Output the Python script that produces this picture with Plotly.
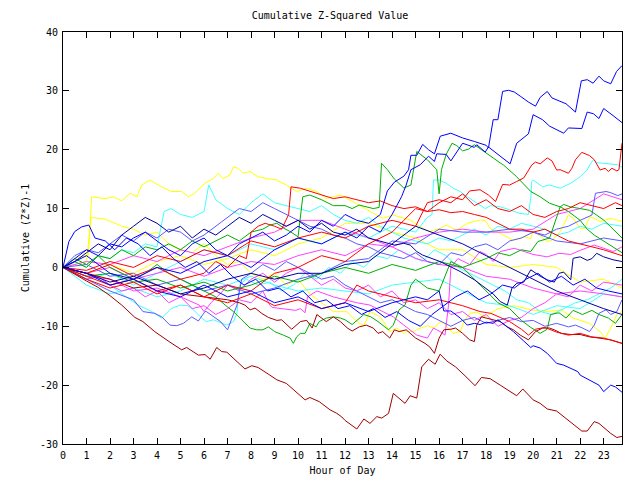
import plotly.graph_objects as go

# ---------------- data ----------------
hour_grid = [0, 1, 2, 3, 4, 5, 6, 7, 8, 9, 10, 11, 12, 13, 14, 15, 16, 17, 18, 19, 20, 21, 22, 23, 23.78]

h_blue_top = [0, 0.5, 1, 1.5, 2, 2.5, 3, 3.5, 4, 4.5, 5, 5.5, 6, 6.5, 7, 7.5, 8, 8.5, 9, 9.5, 10, 10.5, 11, 11.5, 12, 12.5, 13, 13.5,
              13.8, 14.1, 14.5, 14.7, 14.8, 15.05, 15.3, 15.55, 15.8, 16.05, 16.5, 17.0, 17.5, 18.0, 18.1, 18.3, 18.5,
              18.7, 18.95, 19.2, 19.45, 19.8, 20.1, 20.3, 20.6, 20.8, 21.1, 21.4, 21.8, 22.05, 22.3, 22.55, 22.8, 23.0, 23.3, 23.55, 23.78]
v_blue_top = [0, 1.5, 3, 2, 4, 3.5, 5, 6, 4.5, 3, 2, 4, 5, 3, 2, 4, 5, 6, 4.5, 5.5, 7, 6, 8, 7, 9, 8, 7.5, 9,
              13, 14.5, 15.5, 16.6, 19.05, 19.05, 20.9, 20.0, 19.3, 22.3, 22.8, 22.0, 21.4, 20.75, 20.3, 25.1, 25.1,
              29.9, 30.1, 29.8, 29.1, 28.1, 27.4, 28.9, 29.9, 28.8, 28.3, 27.8, 26.4, 31.7, 31.9, 31.3, 32.5, 31.7, 31.2, 33.3, 34.3]

h_blue_2 = [0, 1, 2, 3, 4, 5, 6, 7, 8, 9, 10, 11, 12, 12.5, 13, 13.5, 14, 14.4, 14.6, 14.8, 15.2, 15.55, 15.8, 15.9, 16.3, 16.5,
            17.0, 17.5, 17.6, 17.96, 18.1, 18.6, 19.02, 19.3, 19.8, 20.0, 20.4, 20.7, 21.3, 21.5, 22.07, 22.3, 22.57, 22.8, 23.0, 23.4, 23.78]
v_blue_2 = [0, 2, -1, -2, 0, -1, 1, 2, 0, 3, 5, 4, 6, 5, 7, 6, 9, 12, 14, 16.6, 17.45, 18.9, 18.0, 19.3, 19.2, 18.1,
            21.1, 20.4, 20.85, 19.6, 20.46, 18.9, 17.6, 21.1, 22.7, 25.95, 25.1, 24.0, 22.8, 23.7, 23.6, 26.4, 26.1, 25.3, 27.0, 25.8, 24.6]

h_red_top = [0, 1, 2, 3, 4, 5, 6, 7, 8, 9, 10, 11, 12, 13, 14, 14.5, 15, 15.5, 16, 16.5, 17, 17.3, 17.74, 18.1, 18.4, 18.7, 19.0,
             19.3, 19.6, 19.94, 20.1, 20.3, 20.6, 20.8, 21.0, 21.15, 21.5, 21.65, 21.8, 22.07, 22.4, 22.6, 22.85, 23.06, 23.2,
             23.35, 23.56, 23.65, 23.78]
v_red_top = [0, -1.5, -3, -2, -4, -3, -5, -3, -4, -1, 0, 2, 1, 4, 6, 8, 10, 9.5, 11, 12, 11.5, 13, 13.2, 12.3, 11.2, 14.1, 14.0,
             14.6, 15.2, 17.4, 17.9, 17.6, 18.6, 18.1, 16.55, 16.6, 16.0, 16.85, 18.3, 19.55, 19.0, 18.3, 16.55, 16.85, 16.3,
             16.85, 16.4, 16.6, 21.1]

h_cyan_top = [0, 1, 2, 3, 4, 5, 6, 7, 8, 9, 10, 11, 12, 13, 14, 15, 15.5, 15.7, 15.76, 16.0, 16.3, 16.6, 16.9, 17.2, 17.5, 17.74,
              17.96, 18.2, 18.6, 19.0, 19.4, 19.8, 19.9, 19.94, 20.0, 20.4, 20.7, 21.15, 21.6, 22.0, 22.3, 22.4, 22.57, 22.7, 23.2, 23.6, 23.78]
v_cyan_top = [0, -2, -1, -3, -1, 1, 3, 2, 4, 3, 5, 4, 6, 5, 7, 6, 8.5, 9, 14.85, 14.85, 14.3, 13.45, 12.9, 12.0, 11.2, 10.6,
              10.0, 10.5, 10.3, 9.8, 9.2, 9.0, 11.8, 14.6, 14.85, 13.7, 14.0, 13.45, 14.3, 15.4, 16.55, 17.4, 18.3, 17.8, 17.6, 17.45, 17.0]

h_darkred_low = [0, 0.5, 1, 1.5, 2, 2.5, 3.06, 3.4, 3.9, 4.55, 5.05, 5.26, 5.76, 6.04, 6.26, 6.54, 6.75, 6.97, 7.4, 7.74, 8.03, 8.3,
                 8.8, 9.1, 9.5, 9.8, 10.1, 10.3, 10.5, 10.9, 11.36, 11.65, 11.86, 12.0, 12.5, 12.8, 13.06, 13.35, 13.56, 13.85,
                 14.05, 14.27, 14.55, 14.77, 15.05, 15.26, 15.55, 15.83, 16.04, 16.33, 16.7, 17.1, 17.53, 17.8, 18.17, 18.6,
                 19.0, 19.3, 19.56, 20.0, 20.3, 20.6, 21.0, 21.57, 22.07, 22.3, 22.6, 22.8, 23.3, 23.56, 23.78]
v_darkred_low = [0, -1.2, -2.3, -3.4, -4.8, -6.4, -8.5, -9.2, -10.9, -12.7, -14.0, -13.6, -14.9, -14.8, -15.6, -13.6, -14.3, -14.4,
                 -16.0, -17.25, -16.7, -17.0, -18.3, -19.1, -19.7, -20.8, -21.8, -22.5, -22.1, -22.8, -24.2, -24.8, -25.4, -26.0,
                 -27.45, -25.75, -26.5, -25.35, -25.6, -24.8, -21.4, -22.2, -23.1, -21.8, -22.2, -16.9, -15.6, -16.45, -14.75,
                 -15.9, -16.9, -18.4, -20.1, -18.7, -18.9, -20.0, -21.0, -21.8, -20.65, -22.5, -23.1, -24.05, -24.4, -26.2,
                 -27.8, -27.8, -26.2, -26.5, -28.2, -28.9, -28.7]

h_blue_low = [0, 1, 2, 3, 4, 5, 6, 7, 8, 9, 10, 11, 12, 13, 14, 15, 15.5, 16.0, 16.2, 16.5, 16.9, 17.2, 17.5, 17.74, 18.0, 18.3,
              18.5, 18.7, 19.16, 19.6, 19.9, 20.0, 20.3, 20.6, 21.0, 21.3, 21.6, 21.9, 22.0, 22.4, 22.8, 23.0, 23.3, 23.5, 23.78]
v_blue_low = [0, -1, -3, -2, -4, -5, -3, -5, -4, -6, -5, -7, -6, -7.5, -6, -5, -5.5, -4, -7.4, -7.4, -8.6, -9.8, -9.5, -9.7, -9.3,
              -9.5, -8.9, -9.5, -10.9, -12.5, -13.6, -13.3, -13.7, -14.6, -16.3, -16.6, -17.1, -17.7, -18.3, -19.1, -20.0, -21.1,
              -20.0, -20.3, -21.2]

h_darkred_mid = [0, 1, 2, 3, 4, 5, 6, 7, 7.5, 7.74, 7.96, 8.17, 8.45, 8.74, 9.1, 9.3, 9.73, 10.1, 10.37, 10.6, 10.8, 11.2, 11.5,
                 11.8, 12.1, 12.3, 12.6, 12.9, 13.2, 13.4, 13.6, 13.9, 14.1, 14.3, 14.6, 15.0, 15.4, 15.6, 15.8, 16.0, 16.2,
                 16.5, 16.7, 17.0, 17.3, 17.5, 17.6, 17.8, 18.0, 18.6, 18.9, 19.16, 19.45, 19.8, 20.1, 20.4, 20.7, 20.9, 21.2,
                 21.6, 22.0, 22.4, 22.8, 23.3, 23.78]
v_darkred_mid = [0, -1, -2, -3.5, -3, -4.5, -5, -5.5, -6, -6.4, -7.2, -6.9, -7.8, -8.5, -9.0, -8.9, -10.5, -9.2, -9.0, -10.3, -8.0,
                 -9.2, -8.4, -9.2, -10.3, -10.8, -10.1, -9.8, -10.3, -11.2, -10.9, -12.0, -10.6, -10.9, -10.6, -12.0, -12.9,
                 -13.5, -14.6, -12.0, -10.6, -10.5, -10.3, -11.2, -12.3, -12.6, -9.8, -8.4, -8.6, -9.2, -10.1, -10.6, -11.5,
                 -12.3, -10.9, -10.3, -10.3, -10.6, -11.2, -11.4, -11.4, -11.8, -12.0, -12.3, -12.9]

h_green_low = [0, 0.5, 1, 1.5, 2, 2.5, 3, 3.5, 4, 4.5, 5, 5.5, 6, 6.5, 6.9, 7.25, 7.6, 7.96, 8.24, 8.5, 8.74, 9.0, 9.37, 9.66,
               9.8, 9.94, 10.1, 10.3, 10.5, 10.77, 10.9, 11.2, 11.5, 11.8, 12.0, 12.3, 12.8, 13.1, 13.4, 13.85, 14.05, 14.3,
               14.55, 14.8, 15.0, 15.5, 16.0, 16.3, 16.5, 17.0, 17.5, 18.0, 18.5, 19.0, 19.5, 19.9, 20.3, 20.6, 20.74, 21.1,
               21.4, 21.7, 22.1, 22.5, 22.8, 23.2, 23.5, 23.78]
v_green_low = [0, 1.5, 0.5, 2, 0, -1, -2, -1, 0.5, -1, -2, -3, -4, -5, -6.4, -7.5, -8.9, -10.3, -10.6, -10.6, -10.1, -10.9,
               -11.5, -12.0, -12.9, -11.8, -11.2, -11.2, -9.5, -10.1, -9.2, -8.6, -8.4, -8.6, -8.9, -9.7, -8.0, -8.4, -9.2,
               -10.6, -9.8, -7.2, -6.4, -3, -2, -3.5, -4, -1, 1, 0, -2, -4, -6, -7, -9, -10.2, -11.2, -10.5, -8.0, -7.7,
               -8.6, -7.3, -8.0, -7.3, -8.0, -8.6, -9.5, -8.0]

h_green_peak = [0, 0.5, 1, 1.5, 2, 2.5, 3, 3.5, 4, 4.5, 5, 5.5, 6, 6.5, 7, 7.5, 8, 8.5, 8.8, 9.1, 9.4, 9.66, 10.0, 10.2, 10.5,
                11.0, 11.5, 12.0, 12.3, 12.6, 12.9, 13.2, 13.45, 13.55, 13.8, 14.1, 14.5, 14.8, 15.05, 15.5, 15.9, 16.0,
                16.1, 16.3, 16.55, 16.75, 17.0, 17.25, 17.5, 17.75, 18.0, 18.3, 18.6, 18.74, 19.3, 19.9, 20.3, 20.7,
                21.15, 21.5, 22.0, 22.3, 22.6, 23.0, 23.4, 23.78]
v_green_peak = [0, 1, 0, 2, 1.5, 3, 2, 3.5, 3, 4, 3, 4.5, 3.5, 4.5, 5.5, 4.5, 6, 6.5, 7.2, 7.5, 6.65, 6.1, 5.2, 12.0, 12.3,
                11.5, 10.5, 10.5, 10.0, 10.6, 10.3, 10.0, 10.2, 17.7, 16.6, 15.0, 13.5, 14.0, 19.7, 18.3, 16.6, 12.5,
                16.6, 19.2, 21.1, 20.7, 19.8, 20.1, 20.85, 20.1, 19.45, 18.6, 17.75, 17.4, 15.4, 12.9, 12.0, 10.9,
                10.3, 9.5, 8.0, 6.5, 5.5, 4.5, 3.5, 2.5]

h_green_jump = [0, 1, 2, 3, 4, 5, 6, 7, 8, 9, 10, 11, 12, 13, 14, 15, 16, 17, 18, 18.5, 19, 19.5, 19.9, 20.2, 20.7, 21.15, 21.3,
                21.57, 22.0, 22.4, 22.7, 23.0, 23.3, 23.78]
v_green_jump = [0, -1.5, -1, -2.5, -2, -3.5, -2.5, -4, -3, -1.5, -2.5, -1, 0, -1, 0.5, -0.5, 1, 0, 1.5, 2.5, 2, 3, 2.7, 4.4,
                5.0, 10.3, 10.7, 10.3, 10.0, 9.7, 8.9, 8.05, 6.9, 5.0]

h_yellow_top = [0, 0.5, 1.08, 1.22, 1.79, 2.14, 2.5, 2.85, 3.14, 3.35, 3.7, 4.06, 4.6, 5.05, 5.33, 5.6, 6.04, 6.4, 6.6, 6.8,
                7.1, 7.25, 7.46, 7.67, 7.96, 8.3, 8.67, 9.1, 9.5, 9.94, 10.37, 10.8, 11.2, 11.8, 12.07, 12.6, 13.2, 13.6,
                14.05, 14.77, 15.2, 15.6, 16.04, 16.3, 16.75, 17.2, 17.74, 17.96, 18.2, 18.6, 19.16, 19.6, 19.9, 20.0,
                20.37, 20.6, 20.8, 21.15, 21.5, 21.7, 22.0, 22.2, 22.4, 22.6, 22.85, 23.3, 23.56, 23.78]
v_yellow_top = [0, 1.5, 2.1, 12.0, 11.7, 12.0, 11.3, 12.6, 12.0, 14.0, 14.85, 14.0, 12.9, 12.9, 12.0, 12.6, 14.3, 15.1, 16.0,
                15.1, 15.7, 17.1, 16.8, 16.0, 16.3, 15.4, 15.1, 14.85, 14.0, 12.9, 13.45, 12.9, 11.7, 12.3, 11.7, 10.6, 9.2,
                8.35, 8.9, 8.05, 6.9, 6.1, 6.65, 7.2, 6.35, 7.5, 8.05, 8.0, 6.5, 5.8, 4.6, 5.2, 4.9, 6.1, 5.2, 4.4, 4.6,
                6.1, 8.9, 8.35, 6.65, 6.65, 8.6, 8.35, 7.8, 8.35, 8.05, 7.8]

h_yellow_low = [0, 1.0, 1.2, 1.8, 2.5, 3, 3.5, 4, 4.5, 5, 5.5, 6, 6.5, 7, 7.5, 8, 8.5, 9, 9.5, 10, 10.5, 11, 11.5, 11.8,
                12.07, 12.35, 12.6, 12.8, 13.06, 13.5, 13.9, 14.2, 14.5, 14.6, 14.9, 15.2, 15.5, 15.8, 16.04, 16.2, 16.5,
                16.6, 16.9, 17.06, 17.3, 17.6, 17.96, 18.5, 19.2, 19.9, 20.6, 21.2, 21.7, 22.4, 22.85, 23.06, 23.3, 23.56, 23.78]
v_yellow_low = [0, 1, 8.5, 8.2, 7, 6.5, 5.5, 6, 4, 3, 2.5, 4, 2, 0.5, 1, -1, -2, -1, -3, -2, -4.5, -6, -7.5, -7.5, -7.5,
                -8.6, -9.5, -9.9, -7.5, -8.4, -10.9, -10.3, -11.2, -10.9, -10.9, -10.3, -9.9, -10.3, -9.2, -9.5, -10.9,
                -11.2, -10.9, -9.2, -7.8, -7.6, -8.4, -7.0, -6.5, -7.2, -7.5, -7.2, -8.6, -9.5, -10.9, -12.0, -10.3, -8.0, -7.5]

h_magenta_1 = [0, 0.5, 1, 1.5, 2, 2.5, 3, 3.5, 4, 4.5, 5, 5.5, 6, 6.5, 7, 7.5, 8, 8.5, 8.8, 8.9, 9.5, 9.9, 10.1, 10.3, 10.4,
               10.8, 11.5, 12, 12.5, 13.06, 13.35, 13.77, 14.05, 14.5, 14.77, 15.05, 15.5, 15.76, 16.04, 16.25, 16.4, 16.5,
               16.8, 17.3, 17.74, 18.0, 18.3, 18.6, 19.2, 19.6, 20.0, 20.6, 21.1, 21.6, 22.0, 22.6, 23.0, 23.4, 23.78]
v_magenta_1 = [0, -1, -2, -1.5, -3, -4, -3.5, -5, -4, -6, -5, -7, -6.5, -8, -7, -5.5, -6, -4, -6.4, -6.8, -7.1, -7.3, -7.0,
               -7.7, -5, -4, -5, -5.5, -6, -6.4, -7.0, -7.8, -8.4, -9.8, -10.6, -11.5, -12.0, -10.3, -10.9, -11.5, -6.4, 0,
               1.5, 0.5, 2.7, 2.2, 1.0, 2.7, 3.25, 2.7, 2.2, 1.8, 2.4, 2.2, 2.9, 3.8, 3.2, 2.7, 3.5]

h_magenta_2 = [0, 1, 2, 3, 4, 5, 5.8, 6.0, 6.3, 6.8, 7, 7.5, 8, 8.5, 9, 9.5, 10, 10.5, 11, 11.5, 12, 12.5, 13, 13.5, 14, 14.5,
               15, 15.5, 16, 16.5, 17, 17.5, 18, 18.5, 19, 19.5, 20, 20.5, 21, 21.5, 22, 22.5, 23, 23.78]
v_magenta_2 = [0, -1.5, -2, -4, -3.5, -5, -6.4, -7.5, -6, -4, -3, -4, -2, -1, -2.5, -1, 0, -1.5, -3, -2, -3.5, -4, -3, -5,
               -4, -6, -5.5, -7, -6, -8, -7.5, -9, -8, -10, -9, -8.5, -7, -6, -4.5, -5, -3, -4, -2.5, -3]

v_magenta_3 = [0, 1, 0.5, 2, 1, 3, 2, 3.5, 5, 6, 8, 8, 6.5, 5, 3.5, 1.5, 0.5, 0, -1.5, -2, -3.5, -4.5, -4, -4.5, -5]
v_magenta_4 = [0, -1, 0, -2, -1, 0, -1.5, 0, 1, 0.5, 2, 3, 2, 4, 3.5, 5, 6, 6.5, 6, 6, 6.5, 9, 10, 12.5, 11.5]

h_cyan_low = [0, 0.5, 1, 1.5, 2, 2.5, 3.2, 3.77, 4.2, 4.6, 4.98, 5.3, 5.55, 5.9, 6.1, 6.4, 6.97, 7.25, 7.4, 7.5, 7.8, 8.3,
              8.8, 9.3, 9.8, 10.3, 10.8, 11.3, 11.8, 12.3, 12.8, 13.3, 13.8, 14.3, 14.8, 15.3, 15.8, 16.3, 16.8, 17.3,
              17.8, 18.3, 18.8, 19.3, 19.8, 20.3, 20.8, 21.3, 21.8, 22.3, 22.8, 23.3, 23.78]
v_cyan_low = [0, -1, -2, -1.5, -3, -4.5, -6.4, -7.5, -8.6, -7.0, -6.4, -6.5, -7.2, -8.6, -9.2, -8.9, -9.8, -9.2, -7.8, -3, -2,
              -3, -2.5, -4, -3, -1, -2, 0, -1, 1, 0, 2, 1.5, 3, 2, 1, 3, 2, 0, -1, -2, -3, -4, -5.5, -6, -7.5, -8, -7, -6,
              -5.5, -4.5, -3.5, -2]

h_cyan_mid = [0, 0.5, 1, 1.5, 2, 2.5, 3, 3.5, 4, 4.3, 4.6, 5, 5.5, 6, 6.2, 6.5, 7, 7.5, 8, 8.5, 9, 9.5, 10, 10.5, 11, 11.5, 12,
              12.5, 13, 13.5, 14, 14.5, 15, 15.5, 16, 16.5, 17, 17.5, 18, 18.5, 19, 19.5, 20, 20.5, 21, 21.5, 22, 22.5, 23, 23.78]
v_cyan_mid = [0, 1, 0, 2, 1.5, 3, 2.5, 4, 3.5, 9.5, 10, 9, 8.5, 9.5, 14, 11.5, 10, 9, 11, 12.5, 11, 10.5, 10, 9.5, 10.5, 9, 8,
              7.5, 8.5, 7, 6, 5, 4.5, 4, 5, 4.5, 5.5, 6.5, 5.5, 7, 6.5, 7.5, 7, 6.5, 5.5, 6, 7, 6.5, 7.5, 7.0]

v_cyan_3 = [0, -3, -4.5, -3.5, -5, -4, -2, -3, -1.5, -3, -4, -3.5, -4, -4.5, -3, -2.5, -2, -4, -6, -6.5, -8, -6.5, -7, -4.5, -5]

h_slate_1 = [0, 0.5, 1, 1.5, 2, 2.5, 3, 3.5, 4, 4.5, 5, 5.5, 6, 6.5, 7, 7.5, 8, 8.5, 9, 9.5, 10, 10.5, 11, 11.5, 12, 12.5, 13,
             13.5, 14, 14.5, 15, 15.5, 16, 16.5, 17, 17.5, 18, 18.5, 19, 19.5, 20, 20.5, 21, 21.5, 22, 22.5, 22.65, 22.9,
             23.1, 23.3, 23.6, 23.78]
v_slate_1 = [0, 2, 3, 2.5, 4, 5.5, 4.5, 6, 5, 6.5, 6, 4.5, 5.5, 7, 8.5, 10, 9.5, 11, 10, 9, 8, 7, 6.5, 5.5, 5, 4, 3.5, 2.5, 2,
             1.5, 2.5, 1, 0.5, 2.5, 2, 3.5, 4, 3, 4.5, 5, 6, 5.5, 6.5, 7, 8, 8.9, 12.6, 12.8, 12.9, 12.7, 12.2, 12.5]

h_slate_2 = [0, 1, 2, 3, 3.4, 3.9, 4.2, 4.55, 4.84, 5.12, 5.48, 5.76, 6.04, 6.1, 6.7, 7.0, 7.2, 7.4, 7.6, 8, 8.5, 9, 9.5, 10,
             10.5, 11, 11.5, 12, 12.5, 13, 13.5, 14, 14.5, 15, 15.5, 16, 16.5, 17, 17.5, 18, 18.5, 19, 19.5, 20, 20.5, 21,
             21.5, 21.8, 22.1, 22.4, 22.6, 22.8, 23.1, 23.3, 23.56, 23.78]
v_slate_2 = [0, -2, -4, -5.5, -7.5, -7.8, -8.4, -9.8, -9.9, -9.5, -8.4, -9.1, -7.5, -7.5, -9.2, -10.6, -8.6, -6.4, -2, -1, 0.5,
             -0.5, 1, 0, -1, -2, -1.5, -3, -4, -5, -6, -5.5, -6.5, -7.5, -8, -9, -10, -9, -8.5, -9.5, -9, -8.5, -9.2, -9,
             -10, -9.5, -10.1, -9.8, -10.3, -10.9, -9.8, -7.8, -7.2, -8.0, -7.5, -5.5]

v_slate_3 = [0, 0.5, -1.5, -1, -3, -2, -4, -3, -4.5, -3.5, -2, -1, 1, 1.5, 4.5, 4, 6.5, 6, 6, 6.5, 6, 4.5, 4, 5, 4.5]

h_navy_1 = [0, 0.5, 1, 1.5, 2, 2.5, 3, 3.5, 4, 4.5, 5, 5.5, 6, 6.5, 7, 7.5, 8, 8.5, 9, 9.5, 10, 10.5, 11, 11.5, 12, 12.5, 13,
            13.6, 14.1, 14.5, 14.77, 15.05, 15.3, 16.04, 16.5, 16.9, 17.5, 17.96, 18.3, 18.6, 18.9, 19.1, 19.3, 19.6, 19.9,
            20.3, 20.6, 20.9, 21.1, 21.3, 21.6, 21.7, 22.0, 22.3, 22.5, 22.7, 23.0, 23.4, 23.78]
v_navy_1 = [0, 1, 2.5, 4, 3, 5.5, 7, 8.5, 7.5, 6, 7, 5, 6.5, 5.5, 7, 8.5, 7.5, 9, 8, 7, 8, 6.5, 7.5, 6, 5.5, 6.5, 5,
            4.4, 3.8, 4.1, 3.8, 2.7, 2.1, 1.0, 0.1, -0.7, -2.1, -3.5, -4.5, -5.8, -6.4, -3.5, -2.7, -2.5, -0.4, -1.5, -2.1,
            -2.5, -1.0, -0.8, -2.1, 1.55, 1.8, 1.2, 1.5, 2.4, 1.8, 1.3, 1.0]

v_navy_2 = [0, -1, -2.5, -1.5, -3, -4.5, -3.5, -2, -1, -2, -1, -1, 0.5, 1, 4, 7, 5.5, 4, 2, 0, -2, -4, -5.5, -7, -8]

h_blue_early = [0, 0.25, 0.5, 0.8, 1.1, 1.36, 1.8, 2.2, 2.7, 3.2, 3.7, 4.2, 4.7, 5.2, 5.7, 6.2, 6.7, 7.2, 7.7, 8.2, 8.7, 9.2,
                9.7, 10.2, 10.7, 11.2, 11.7, 12.2, 12.7, 13.2, 13.7, 14.2, 14.7, 15.2, 15.7, 16.2, 16.7, 17.2, 17.7, 18.2,
                18.7, 19.2, 19.7, 20.2, 20.7, 21.2, 21.7, 22.2, 22.7, 23.2, 23.78]
v_blue_early = [0, 4.4, 6.1, 6.9, 7.2, 5.0, 4.5, 3, 5, 4, 2, 3.5, 1.5, 0, 1, -1, 0.5, -1.5, -3, -2, -4, -3.5, -5, -4, -6,
                -5.5, -7, -6.5, -8, -7, -8.5, -7.5, -9, -10, -8, -6.5, -5, -4, -5.5, -4.5, -3, -3.5, -2, -1, -2.5, -1.5,
                -3, -2, -3.5, -4, -4.5]

h_red_2 = [0, 1, 2, 3, 4, 5, 6, 6.5, 7, 7.5, 7.8, 8, 8.3, 8.6, 9.0, 9.3, 9.6, 9.7, 10.1, 10.8, 11.5, 12, 12.5, 13, 13.5, 14,
           14.5, 15, 15.5, 16, 16.5, 17, 17.5, 18, 18.5, 19, 19.5, 20, 20.5, 21, 21.5, 22, 22.5, 23, 23.78]
v_red_2 = [0, -1, 0.5, -1.5, 0, -2, -1, 1, 0, 2, 1.5, 6, 7, 7.5, 7, 6.5, 9, 13.7, 13.45, 12.6, 11.7, 12.0, 11.5, 11, 11.3,
           10.5, 10, 10.3, 9.5, 9.8, 9.3, 9.5, 9, 8.5, 7.5, 6.5, 6.5, 6, 6.5, 5.5, 4.5, 4, 3.5, 3, 2]

h_red_3 = [0, 1, 2, 3, 4, 5, 6, 7, 8, 9, 10, 11, 12, 13, 14, 15, 15.5, 16, 16.5, 17, 17.5, 18, 18.5, 19, 19.5, 20, 20.5, 21,
           21.5, 22, 22.5, 23, 23.5, 23.78]
v_red_3 = [0, -0.5, 1, 0, 2, 1, 3, 2, 4.5, 3.5, 5, 6, 5, 7, 8, 7, 11, 11.5, 11, 12.5, 10.5, 11.5, 10, 9.5, 10.5, 9, 8.5, 9.5,
           10, 11, 10.5, 10, 11, 10.5]

h_red_4 = [0, 1, 2, 3, 4, 5, 6, 7, 8, 9, 10, 11, 12, 12.5, 13, 14, 15, 16, 17, 17.74, 18.2, 18.6, 19, 19.5, 19.8, 20.1, 20.5,
           21, 21.5, 22, 22.5, 23, 23.5, 23.78]
v_red_4 = [0, -2, -3.5, -2.5, -4.5, -3, -5, -6, -4.5, -6.5, -5.5, -7, -6, -3, -4, -5, -6, -5.5, -6.5, -7.5, -7.8, -8.5, -9.2,
           -10.5, -11.5, -10.5, -10.2, -11, -11.5, -11.2, -11.8, -12, -12.6, -12.9]

v_yellow_mid = [0, -1, 0.5, -1, 1, 2, 0.5, 1.5, 3, 2, 4, 5, 7.5, 7.5, 6, 5, 3, 3, 0.5, 0, 0.5, 0, -2.5, -2, -3.5]

x_tick_labels = [str(i) for i in range(24)]
y_tick_values = [-30, -20, -10, 0, 10, 20, 30, 40]

# ---------------- styles ----------------
RED, GREEN, BLUE, MAGENTA, CYAN = "#ff0000", "#00b000", "#0000ff", "#ff40ff", "#40ffff"
DARKRED, YELLOW, SLATE, NAVY = "#a00000", "#ffff00", "#5a5aff", "#0000a0"

series = [
    (h_yellow_top, v_yellow_top, YELLOW), (h_yellow_low, v_yellow_low, YELLOW), (hour_grid, v_yellow_mid, YELLOW),
    (h_cyan_mid, v_cyan_mid, CYAN), (h_cyan_low, v_cyan_low, CYAN), (hour_grid, v_cyan_3, CYAN), (h_cyan_top, v_cyan_top, CYAN),
    (h_magenta_1, v_magenta_1, MAGENTA), (h_magenta_2, v_magenta_2, MAGENTA),
    (hour_grid, v_magenta_3, MAGENTA), (hour_grid, v_magenta_4, MAGENTA),
    (h_slate_1, v_slate_1, SLATE), (h_slate_2, v_slate_2, SLATE), (hour_grid, v_slate_3, SLATE),
    (h_green_low, v_green_low, GREEN), (h_green_peak, v_green_peak, GREEN), (h_green_jump, v_green_jump, GREEN),
    (h_darkred_low, v_darkred_low, DARKRED), (h_darkred_mid, v_darkred_mid, DARKRED),
    (h_red_2, v_red_2, RED), (h_red_3, v_red_3, RED), (h_red_4, v_red_4, RED), (h_red_top, v_red_top, RED),
    (h_navy_1, v_navy_1, NAVY), (hour_grid, v_navy_2, NAVY),
    (h_blue_early, v_blue_early, BLUE), (h_blue_low, v_blue_low, BLUE),
    (h_blue_2, v_blue_2, BLUE), (h_blue_top, v_blue_top, BLUE),
]

fig = go.Figure()
for xs, ys, col in series:
    assert len(xs) == len(ys), (len(xs), len(ys))
    fig.add_trace(go.Scatter(x=xs, y=ys, mode="lines", line=dict(color=col, width=1), hoverinfo="skip"))

FONT = "DejaVu Sans Mono"
axis_common = dict(showline=True, linecolor="black", linewidth=1, mirror="allticks", ticks="inside",
                   ticklen=6, tickcolor="black", showgrid=False, zeroline=False, automargin=False,
                   tickfont=dict(family=FONT, size=10, color="black"))

fig.update_layout(
    width=640, height=480, showlegend=False,
    paper_bgcolor="white", plot_bgcolor="white",
    margin=dict(l=63, r=18, t=32, b=36),
    font=dict(family=FONT, size=10, color="black"),
    title=dict(text="Cumulative Z-Squared Value", x=330 / 640, xanchor="center", y=1 - 15 / 480, yanchor="middle",
               font=dict(family=FONT, size=10, color="black")),
    xaxis=dict(range=[0, 23.78], tickmode="array", tickvals=list(range(24)), ticktext=x_tick_labels,
               ticklabelstandoff=2,
               title=dict(text="Hour of Day", font=dict(family=FONT, size=10), standoff=6), **axis_common),
    yaxis=dict(range=[-30, 40], tickmode="array", tickvals=y_tick_values, ticktext=[str(v) for v in y_tick_values],
               ticklabelstandoff=2,
               title=dict(text="Cumulative (Z*Z)-1", font=dict(family=FONT, size=10), standoff=8), **axis_common),
)

fig.write_html("out.html")
